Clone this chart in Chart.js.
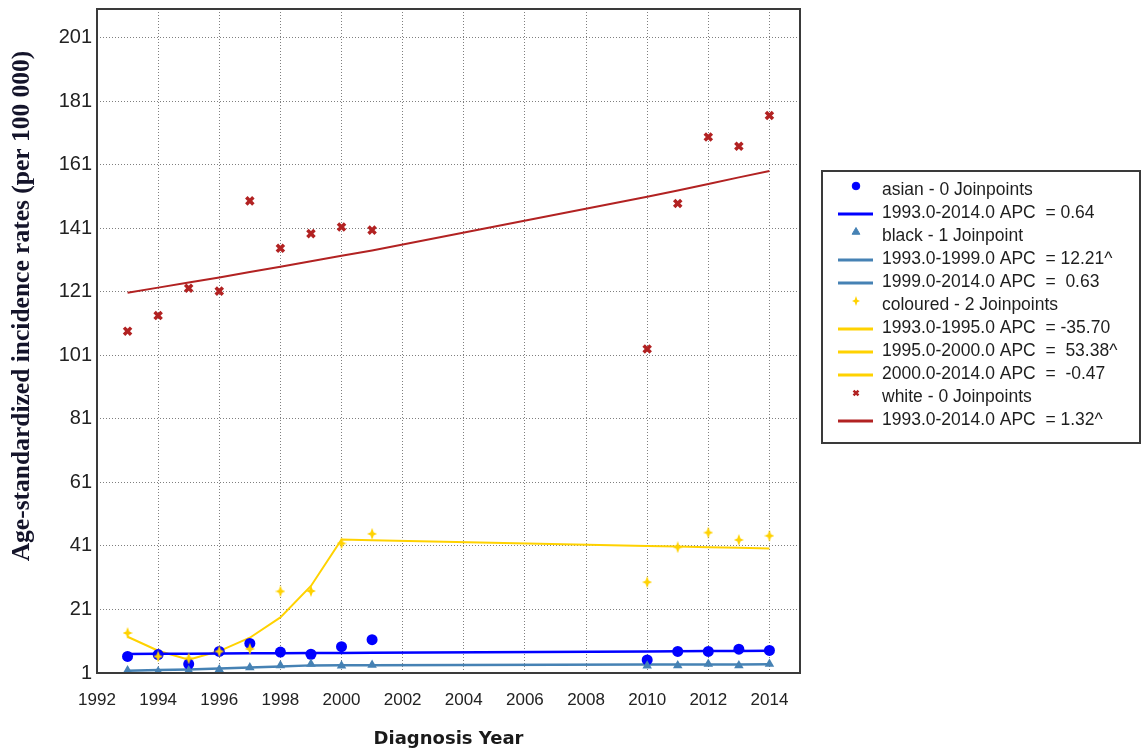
<!DOCTYPE html>
<html>
<head>
<meta charset="utf-8">
<script src="https://cdn.jsdelivr.net/npm/chart.js@4"></script>
<style>
  html, body { margin: 0; padding: 0; background: #fff; }
  canvas { display: block; }
</style>
</head>
<body>
<canvas id="jpChart" width="1142" height="751"></canvas>
<script>
// observed diagnosis years (gap 2002-2009)
const years = [1993, 1994, 1995, 1996, 1997, 1998, 1999, 2000, 2001, 2010, 2011, 2012, 2013, 2014];

const asianRates    = [6.2, 6.8, 3.8, 7.8, 10.3, 7.6, 6.9, 9.3, 11.5, 5.1, 7.8, 7.8, 8.5, 8.1];
const asianFit      = [7.0, 7.05, 7.09, 7.14, 7.18, 7.23, 7.27, 7.32, 7.37, 7.80, 7.85, 7.90, 7.95, 8.0];
const blackRates    = [1.8, 1.5, 1.8, 2.1, 2.7, 3.4, 3.8, 3.3, 3.5, 3.3, 3.4, 3.8, 3.4, 3.8];
const blackFit      = [1.7, 1.91, 2.14, 2.40, 2.70, 3.03, 3.40, 3.42, 3.44, 3.64, 3.66, 3.68, 3.71, 3.73];
const colouredRates = [13.6, 6.2, 5.6, 7.8, 8.6, 26.7, 26.8, 41.8, 44.8, 29.6, 40.6, 45.2, 42.9, 44.2];
const colouredFit   = [12.4, 8.0, 5.2, 7.9, 12.1, 18.5, 28.4, 43.0, 42.8, 41.0, 40.8, 40.6, 40.4, 40.2];
const whiteRates    = [108.6, 113.5, 122.1, 121.2, 149.6, 134.7, 139.3, 141.4, 140.4, 103.0, 148.8, 169.7, 166.8, 176.5];
const whiteFit      = [120.7, 122.3, 123.9, 125.5, 127.2, 128.9, 130.6, 132.3, 134.0, 150.9, 152.9, 154.9, 157.0, 159.0];

const xTicks = [1992, 1994, 1996, 1998, 2000, 2002, 2004, 2006, 2008, 2010, 2012, 2014];
const yTicks = [1, 21, 41, 61, 81, 101, 121, 141, 161, 181, 201];

const yTitle = 'Age-standardized incidence rates (per 100 000)';
const xTitle = 'Diagnosis Year';

const legendTexts = [
  'asian - 0 Joinpoints',
  '1993.0-2014.0 APC  = 0.64',
  'black - 1 Joinpoint',
  '1993.0-1999.0 APC  = 12.21^',
  '1999.0-2014.0 APC  =  0.63',
  'coloured - 2 Joinpoints',
  '1993.0-1995.0 APC  = -35.70',
  '1995.0-2000.0 APC  =  53.38^',
  '2000.0-2014.0 APC  =  -0.47',
  'white - 0 Joinpoints',
  '1993.0-2014.0 APC  = 1.32^'
];

const BLUE = '#0000ff', STEEL = '#4682b4', GOLD = '#ffd200', BRICK = '#b22222';

function sparkle(w, h, color) {
  const c = document.createElement('canvas');
  c.width = w; c.height = h;
  const g = c.getContext('2d');
  const mx = w / 2, my = h / 2, r = Math.min(w, h) * 0.16;
  g.fillStyle = color;
  g.beginPath();
  g.moveTo(mx, 0);
  g.lineTo(mx + r, my - r);
  g.lineTo(w, my);
  g.lineTo(mx + r, my + r);
  g.lineTo(mx, h);
  g.lineTo(mx - r, my + r);
  g.lineTo(0, my);
  g.lineTo(mx - r, my - r);
  g.closePath();
  g.fill();
  return c;
}
const starBig = sparkle(10, 12, GOLD);
const starSmall = sparkle(8, 10, GOLD);

const pts = (vals) => years.map((y, i) => ({ x: y, y: vals[i] }));

function fitSet(vals, color, width, order) {
  return {
    data: pts(vals), showLine: true, borderColor: color, borderWidth: width,
    pointRadius: 0, tension: 0, fill: false, order: order
  };
}

// legend swatches: point marker or line, matching legendTexts rows
const legendMarks = [
  { kind: 'point', style: 'circle', color: BLUE, r: 3.8 },
  { kind: 'line', color: BLUE },
  { kind: 'point', style: 'triangle', color: STEEL, r: 4.5 },
  { kind: 'line', color: STEEL },
  { kind: 'line', color: STEEL },
  { kind: 'point', style: starSmall, color: GOLD, r: 4 },
  { kind: 'line', color: GOLD },
  { kind: 'line', color: GOLD },
  { kind: 'line', color: GOLD },
  { kind: 'point', style: 'crossRot', color: BRICK, r: 3.5 },
  { kind: 'line', color: BRICK }
];

const frameAndLegend = {
  id: 'frameAndLegend',
  afterDraw(chart) {
    const ctx = chart.ctx;
    const a = chart.chartArea;
    ctx.save();
    ctx.strokeStyle = '#3a3a3a';
    ctx.lineWidth = 2;
    ctx.strokeRect(a.left, a.top, a.right - a.left, a.bottom - a.top);

    // y axis title
    ctx.save();
    ctx.translate(22, 306);
    ctx.rotate(-Math.PI / 2);
    ctx.font = 'bold 25.5px "Liberation Serif", "Times New Roman", serif';
    ctx.fillStyle = '#14142a';
    ctx.textAlign = 'center';
    ctx.textBaseline = 'middle';
    ctx.fillText(yTitle, 0, 0);
    ctx.restore();

    // legend box
    ctx.strokeStyle = '#3a3a3a';
    ctx.lineWidth = 2;
    ctx.strokeRect(822, 171, 318, 272);
    ctx.font = '17.5px "Liberation Sans", Arial, sans-serif';
    ctx.textBaseline = 'middle';
    legendTexts.forEach((t, i) => {
      const y = 190 + i * 23;
      const m = legendMarks[i];
      ctx.fillStyle = m.color;
      ctx.strokeStyle = m.color;
      if (m.kind === 'line') {
        ctx.lineWidth = 3;
        ctx.beginPath();
        ctx.moveTo(838, y + 1);
        ctx.lineTo(873, y + 1);
        ctx.stroke();
      } else {
        const isX = m.style === 'crossRot';
        ctx.lineWidth = isX ? 2.5 : 1;
        Chart.helpers.drawPoint(ctx, {
          pointStyle: m.style, radius: m.r,
          borderWidth: isX ? 2.5 : 1, rotation: 0
        }, 856, y - 4);
      }
      ctx.fillStyle = '#1e1e1e';
      ctx.fillText(t, 882, y);
    });
    ctx.restore();
  }
};

const ctx = document.getElementById('jpChart').getContext('2d');
new Chart(ctx, {
  type: 'scatter',
  data: {
    datasets: [
      fitSet(whiteFit, BRICK, 2, 9),
      fitSet(colouredFit, GOLD, 2, 8),
      fitSet(blackFit, STEEL, 2.5, 7),
      fitSet(asianFit, BLUE, 2.5, 6),
      { data: pts(asianRates), pointStyle: 'circle', pointRadius: 5.5, backgroundColor: BLUE, borderColor: BLUE, borderWidth: 0, order: 5 },
      { data: pts(blackRates), pointStyle: 'triangle', pointRadius: 5.5, backgroundColor: STEEL, borderColor: STEEL, borderWidth: 0, order: 4 },
      { data: pts(colouredRates), pointStyle: starBig, pointRadius: 6, backgroundColor: GOLD, borderColor: GOLD, order: 3 },
      { data: pts(whiteRates), pointStyle: 'crossRot', pointRadius: 5, backgroundColor: BRICK, borderColor: BRICK, borderWidth: 3.5, order: 2 }
    ]
  },
  options: {
    responsive: false,
    animation: false,
    events: [],
    layout: { padding: { top: 9, right: 342, left: 0, bottom: 0 } },
    plugins: { legend: { display: false }, tooltip: { enabled: false } },
    scales: {
      x: {
        type: 'linear', min: 1992, max: 2015,
        afterBuildTicks: (s) => { s.ticks = xTicks.map(v => ({ value: v })); },
        afterFit: (s) => { s.height = 78; },
        grid: { color: '#7f7f7f', lineWidth: 1, drawTicks: false },
        border: { display: false, dash: [1, 2] },
        ticks: {
          padding: 17, color: '#222', maxRotation: 0, autoSkip: false,
          font: { family: '"Liberation Sans", Arial, sans-serif', size: 17 },
          callback: (v) => String(v)
        },
        title: {
          display: true, text: xTitle, color: '#1a1a1a',
          font: { family: '"DejaVu Sans", Verdana, sans-serif', size: 18, weight: 'bold' },
          padding: { top: 0, bottom: 1 }
        }
      },
      y: {
        type: 'linear', min: 1, max: 210,
        afterBuildTicks: (s) => { s.ticks = yTicks.map(v => ({ value: v })); },
        afterFit: (s) => { s.width = 97; s.paddingTop = 0; s.paddingBottom = 0; },
        grid: { color: '#7f7f7f', lineWidth: 1, drawTicks: false },
        border: { display: false, dash: [1, 2] },
        ticks: {
          padding: 5, color: '#222', autoSkip: false,
          font: { family: '"Liberation Sans", Arial, sans-serif', size: 20 },
          callback: (v) => String(v)
        }
      }
    }
  },
  plugins: [frameAndLegend]
});
</script>
</body>
</html>
